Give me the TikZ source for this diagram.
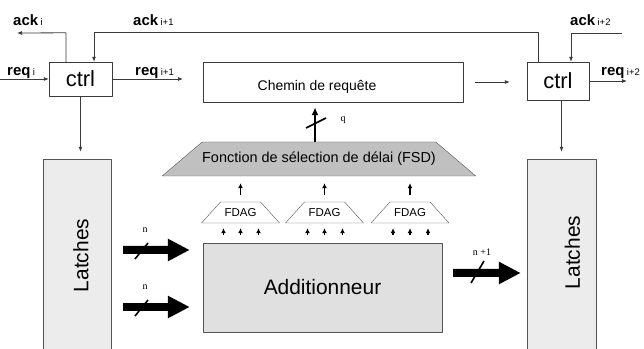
\documentclass[tikz,border=0pt]{standalone}
\usepackage{fontspec}
\setmainfont{Liberation Sans}
\newfontfamily\serifrm{Liberation Serif}
\usetikzlibrary{shapes.geometric,arrows.meta,calc}
\definecolor{linegray}{HTML}{3A3A3A}
\definecolor{boxgray}{HTML}{555555}
\definecolor{fsdgray}{HTML}{C0C0C0}
\definecolor{addgray}{HTML}{E0E0E0}
\definecolor{latchgray}{HTML}{ECECEC}
\newcommand{\sig}[2]{\textbf{#1}\,{\fontsize{9.5}{9.5}\selectfont #2}}
\tikzset{
  ctrlbox/.style={draw=linegray,inner sep=0pt,font=\fontsize{22}{22}\selectfont},
  latchbox/.style={draw=boxgray,fill=latchgray,minimum width=68bp,minimum height=193bp,inner sep=0pt},
  latchtext/.style={rotate=90,font=\fontsize{21}{21}\selectfont},
  fdagbox/.style={draw=boxgray,fill=white,trapezium,trapezium stretches body,trapezium angle=47.9,
    text height=8.5bp,text depth=0bp,inner xsep=0pt,inner ysep=6.25bp,
    minimum width=78bp,font=\fontsize{11.5}{11.5}\selectfont},
  conn/.style={draw=linegray,line width=0.8bp,-{Latex[length=5bp,width=4bp]}},
  tinyarrow/.style={draw=black,line width=1.4bp,-{Latex[length=5bp,width=5bp]}},
  bus/.style={draw=black,line width=8bp,-{Triangle[length=22bp,width=21bp]}},
  slash/.style={draw=black,line width=1.6bp},
  siglabel/.style={anchor=base west,inner sep=0pt,font=\fontsize{15}{15}\selectfont},
  buslabel/.style={inner sep=0pt,font=\serifrm\fontsize{10}{10}\selectfont},
}
\begin{document}
\begin{tikzpicture}[line join=bevel]
\useasboundingbox (0,0) rectangle (644bp,349bp);
\clip (0,0) rectangle (644bp,349bp);
%%
\node (ctrl_0) at (80.5bp,270bp) [ctrlbox,minimum width=63bp,minimum height=34bp] {ctrl};
  \node (ctrl_1) at (558bp,268bp) [ctrlbox,minimum width=62bp,minimum height=38bp] {ctrl};
  \node (chemin) at (333bp,267bp) [draw=linegray,minimum width=260bp,minimum height=40bp,inner sep=0pt,
    label={[xshift=-16bp,yshift=-5bp,font=\fontsize{14}{14}\selectfont]center:Chemin de requête}] {};
  \node (latch_0) at (77bp,93.5bp) [latchbox,label={[latchtext,yshift=-4bp]center:Latches}] {};
  \node (latch_1) at (561.5bp,93.5bp) [latchbox,minimum width=69bp,label={[latchtext,xshift=3bp,yshift=-11bp]center:Latches}] {};
  \node (fsd) at (319bp,190bp) [draw=boxgray,fill=fsdgray,trapezium,trapezium stretches body,trapezium angle=40.4,
    text height=10.5bp,text depth=3bp,inner xsep=0pt,inner ysep=10.25bp,
    minimum width=312bp,font=\fontsize{14.5}{14.5}\selectfont] {Fonction de sélection de délai (FSD)};
  \node (fdag_0) at (240.5bp,136.5bp) [fdagbox] {FDAG};
  \node (fdag_1) at (324.5bp,136.5bp) [fdagbox] {FDAG};
  \node (fdag_2) at (410bp,136.5bp) [fdagbox] {FDAG};
  \node (add) at (322.5bp,61.5bp) [draw=boxgray,fill=addgray,minimum width=239bp,minimum height=89bp,inner sep=0pt,
    font=\fontsize{21}{21}\selectfont] {Additionneur};
%
  \coordinate (req_in) at (0bp,270bp);
  \coordinate (req_out) at (183bp,270bp);
  \coordinate (req_end) at (627bp,268bp);
  \coordinate (ack_out) at (17bp,316bp);
  \coordinate (ack_in) at (622bp,316bp);
  \node (req_i) at (7bp,273bp) [siglabel] {\sig{req}{i}};
  \node (req_i1) at (135bp,273bp) [siglabel] {\sig{req}{i+1}};
  \node (req_i2) at (601bp,273bp) [siglabel] {\sig{req}{i+2}};
  \node (ack_i) at (13bp,323bp) [siglabel] {\sig{ack}{i}};
  \node (ack_i1) at (133bp,323bp) [siglabel] {\sig{ack}{i+1}};
  \node (ack_i2) at (570bp,323bp) [siglabel] {\sig{ack}{i+2}};
%
  \draw [conn] (req_in) -- (ctrl_0.west);
  \draw [conn] (ctrl_0.east) -- (req_out);
  \draw [conn,shorten <=12bp,shorten >=17bp] (chemin.east) -- (chemin.east -| ctrl_1.west);
  \draw [conn] (ctrl_1.east) -- (req_end);
  \draw [conn] ([xshift=-14.5bp]ctrl_0.north) -- ++(0,29bp) -- (ack_out);
  \draw [conn] ([xshift=-20bp]ctrl_1.north) -- ++(0,29bp) -| ([xshift=13.5bp]ctrl_0.north);
  \draw [conn] (ack_in) -| ([xshift=13bp]ctrl_1.north);
  \draw [conn,shorten >=7bp] (ctrl_0.south) -- (ctrl_0.south |- latch_0.north);
  \draw [conn,shorten >=7bp] (ctrl_1.south -| latch_1.north) -- (latch_1.north);
%
  \coordinate (q_foot) at ([xshift=-4bp]fsd.north);
  \draw [draw=black,line width=2bp,-{Latex[length=8bp,width=7bp]},shorten >=5bp] (q_foot) -- (q_foot |- chemin.south);
  \draw [slash] (306bp,221bp) -- (326bp,231bp);
  \node (q) at (343bp,229bp) [buslabel] {q};
  \foreach \i in {0,1,2} {
    \draw [tinyarrow,shorten <=7bp,shorten >=7bp] (fdag_\i.north) -- (fdag_\i.north |- fsd.south);
    \foreach \dx in {-17,0,18}
      \draw [tinyarrow,shorten <=8bp,shorten >=5bp] ($(add.north -| fdag_\i.south)+(\dx bp,0)$) -- ($(fdag_\i.south)+(\dx bp,0)$);
  }
%
  \draw [bus,shorten <=12bp,shorten >=13bp] ([yshift=5.5bp]latch_0.east) -- ([yshift=37.5bp]add.west);
  \draw [bus,shorten <=12bp,shorten >=13bp] ([yshift=-51.5bp]latch_0.east) -- ([yshift=-19.5bp]add.west);
  \draw [bus,shorten <=11bp,shorten >=6bp] ([yshift=14.5bp]add.east) -- ([yshift=-17.5bp]latch_1.west);
  \draw [slash] (135bp,90bp) -- (148bp,106bp);
  \draw [slash] (135bp,33bp) -- (148bp,49bp);
  \draw [slash] (471bp,66bp) -- (484bp,88bp);
  \node (n_0) at (145bp,119bp) [buslabel] {n};
  \node (n_1) at (145bp,62bp) [buslabel] {n};
  \node (n_2) at (482bp,97bp) [buslabel] {n +1};
%
\end{tikzpicture}
\end{document}
